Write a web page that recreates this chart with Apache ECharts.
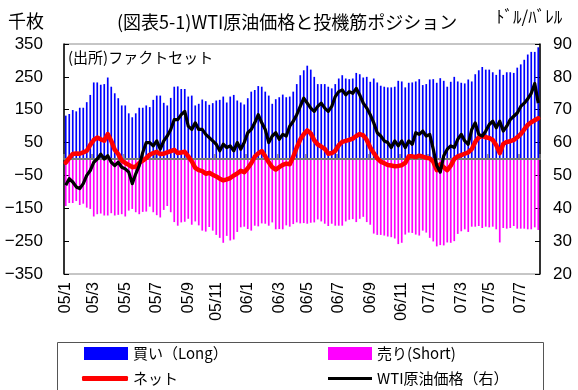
<!DOCTYPE html>
<html>
<head>
<meta charset="utf-8">
<script src="https://cdn.jsdelivr.net/npm/echarts@6/dist/echarts.min.js"></script>
<style>
  html, body { margin: 0; padding: 0; background: #fff; }
  #chart { width: 578px; height: 390px; }
</style>
</head>
<body>
<div id="chart"></div>
<script>
// Weekly positions (Tuesday reports) from 2005-01-04, in thousands of contracts
const firstWeek = [2005, 0, 4];
const weekCount = 136;

const longPos = [
  132,137,149,145,156,156,173,195,233,233,
  226,228,248,220,200,185,163,163,139,127,
  139,156,156,163,158,180,193,193,171,163,
  186,220,221,213,213,190,193,163,168,181,
  176,165,170,178,180,190,172,190,195,178,
  172,166,185,205,210,222,220,205,193,168,
  182,188,196,188,190,205,228,255,270,284,
  272,250,228,228,228,220,215,228,245,255,
  245,243,245,262,258,248,250,235,245,233,
  223,220,218,218,220,238,236,218,232,233,
  236,243,225,228,242,243,232,246,238,220,
  235,250,236,232,230,242,236,258,270,280,
  272,272,264,256,272,256,264,264,262,278,
  288,302,318,326,326,340
];

const shortPos = [
  -143,-134,-134,-128,-140,-136,-148,-152,-175,-168,
  -166,-172,-172,-165,-172,-170,-168,-175,-157,-152,
  -162,-168,-161,-160,-145,-162,-171,-178,-155,-143,
  -162,-192,-203,-193,-191,-182,-200,-190,-202,-218,
  -221,-207,-218,-231,-240,-255,-234,-248,-245,-222,
  -208,-206,-213,-218,-203,-205,-196,-197,-203,-193,
  -214,-213,-214,-202,-206,-198,-193,-196,-195,-197,
  -194,-193,-184,-190,-197,-204,-197,-203,-203,-203,
  -190,-185,-183,-192,-182,-176,-192,-200,-227,-231,
  -231,-233,-236,-238,-242,-259,-255,-230,-224,-225,
  -230,-233,-218,-224,-240,-251,-266,-262,-263,-254,
  -255,-250,-228,-220,-214,-222,-206,-206,-204,-210,
  -206,-208,-206,-214,-254,-210,-212,-210,-204,-212,
  -212,-212,-214,-214,-208,-216
];

const netPos = [
  -11,3,15,17,16,20,25,43,58,65,
  60,56,76,55,28,15,-5,-12,-18,-25,
  -23,-12,-5,3,13,18,22,15,16,20,
  24,28,18,20,22,8,-7,-27,-34,-37,
  -45,-42,-48,-53,-60,-65,-62,-58,-50,-44,
  -36,-40,-28,-13,7,17,24,8,-10,-25,
  -32,-25,-18,-14,-16,7,35,59,75,87,
  78,57,44,38,31,16,18,25,42,52,
  55,58,62,70,76,72,58,35,18,2,
  -8,-13,-18,-20,-22,-21,-19,-12,8,8,
  6,10,7,4,2,-8,-34,-16,-25,-34,
  -20,0,8,12,16,20,30,52,66,70,
  66,64,58,42,18,46,52,54,58,66,
  76,90,104,112,118,124
];

// WTI crude, USD per barrel
const wtiPrice = [
  47,49,48,46.5,46,47.5,50,51.5,54,55,
  56.5,55,56,54,53,54,52.5,52,51,47.5,
  50.5,53,57,60,60,59,60.5,58,60.5,62,
  64,67,67,68.5,69.5,65,64,66,64,64,
  62.5,61.5,60.5,59.5,57.5,59.5,58.5,59,57.5,60,
  58,60,63,64,66,68.5,66,64,60,62,
  63,61,62.5,62,65,66.5,68.5,71,73.5,72,
  70.5,69.5,71,72,70.5,69.5,71,74,75.5,76,
  74.5,75.5,75,76.5,74.5,72,70.5,68.5,66,63,
  62,60.5,60,58.5,60.5,59,60.5,58.5,60.5,59.5,
  63,62.5,63.5,62,62.5,58,53,51,56,58,
  59,58.5,61,62.5,60.5,59.5,64,66,62.5,62,
  63.5,65.5,66.5,64.5,66.5,63.5,65,67,68,69,
  71,72,73.3,75,78,72
];

const leftTicks = { min: -350, max: 350, step: 100 };
const rightTicks = { min: 20, max: 90, step: 10 };

// Category labels: one per weekly report
const weekDates = [];
for (let i = 0; i < weekCount; i++) {
  const d = new Date(firstWeek[0], firstWeek[1], firstWeek[2] + i * 7);
  weekDates.push(d.getFullYear() + '-' + (d.getMonth() + 1) + '-' + d.getDate());
}
// First report of every odd month carries a tick and a label ("05/1")
function isMarked(index) {
  const p = weekDates[index].split('-').map(Number);
  return p[2] <= 7 && p[1] % 2 === 1;
}
function shortLabel(value) {
  const p = value.split('-');
  return p[0].slice(2) + '/' + p[1];
}

const NUM_FONT = '"Liberation Sans", Arial, sans-serif';
const JP_FONT = '"Noto Sans CJK JP", "Noto Sans", sans-serif';

const chart = echarts.init(document.getElementById('chart'), null, { renderer: 'canvas' });

const legendText = { fontFamily: JP_FONT, fontSize: 15, color: '#000' };

chart.setOption({
  animation: false,
  backgroundColor: '#ffffff',
  grid: {
    left: 64, right: 38, top: 44, bottom: 116,
    show: true, borderColor: '#8c8c8c', borderWidth: 1, backgroundColor: 'transparent'
  },
  xAxis: [
    {
      type: 'category',
      data: weekDates,
      boundaryGap: true,
      axisLine: { show: false, onZero: false },
      axisTick: { show: false },
      axisLabel: {
        rotate: 90,
        interval: (i) => isMarked(i),
        formatter: shortLabel,
        fontFamily: NUM_FONT,
        fontSize: 16,
        color: '#000',
        margin: 8
      },
      splitLine: { show: false }
    },
    {
      // zero baseline with the bi-monthly tick marks
      type: 'category',
      data: weekDates,
      boundaryGap: true,
      position: 'bottom',
      z: 3,
      axisLine: { show: true, onZero: true, onZeroAxisIndex: 0, lineStyle: { color: '#7a7a7a', width: 2 } },
      axisTick: { show: true, inside: true, length: 5, interval: (i) => isMarked(i), lineStyle: { color: '#7a7a7a', width: 1.5 } },
      axisLabel: { show: false },
      splitLine: { show: false }
    }
  ],
  yAxis: [
    {
      type: 'value',
      min: leftTicks.min, max: leftTicks.max, interval: leftTicks.step,
      axisLine: { show: true, lineStyle: { color: '#000', width: 1.5 } },
      axisTick: { show: true, inside: true, length: 5, lineStyle: { color: '#000' } },
      axisLabel: {
        fontFamily: NUM_FONT, fontSize: 17, color: '#000', margin: 21,
        formatter: (v) => String(v).replace('-', '\u2212')
      },
      splitLine: { show: false }
    },
    {
      type: 'value',
      position: 'right',
      min: rightTicks.min, max: rightTicks.max, interval: rightTicks.step,
      axisLine: { show: true, lineStyle: { color: '#000', width: 1.5 } },
      axisTick: { show: true, inside: true, length: 5, lineStyle: { color: '#000' } },
      axisLabel: { fontFamily: NUM_FONT, fontSize: 17, color: '#000', margin: 13 },
      splitLine: { show: false }
    }
  ],
  legend: [
    { data: ['買い（Long）'], left: 84, top: 346, padding: 0, itemWidth: 44, itemHeight: 13, icon: 'rect', textStyle: legendText },
    { data: ['売り(Short)'], left: 328, top: 346, padding: 0, itemWidth: 44, itemHeight: 13, icon: 'rect', textStyle: legendText },
    { data: ['ネット'], left: 82, top: 371, padding: 0, itemWidth: 46, itemHeight: 5, icon: 'roundRect', textStyle: legendText },
    { data: ['WTI原油価格（右）'], left: 328, top: 371, padding: 0, itemWidth: 44, itemHeight: 3, icon: 'rect', textStyle: legendText }
  ],
  graphic: [
    { type: 'rect', shape: { x: 57.5, y: 342.5, width: 486, height: 60 },
      style: { fill: 'none', stroke: '#555', lineWidth: 1 }, z: -1 },
    { type: 'text', left: 8, top: 12,
      style: { text: '千枚', fontFamily: JP_FONT, fontSize: 18, fill: '#000' } },
    { type: 'text', left: 117, top: 13,
      style: { text: '(図表5-1)WTI原油価格と投機筋ポジション', fontFamily: JP_FONT, fontSize: 18, fill: '#000' } },
    { type: 'text', left: 496, top: 8,
      style: { text: 'ﾄﾞﾙ/ﾊﾞﾚﾙ', fontFamily: JP_FONT, fontSize: 17, fill: '#000' } },
    { type: 'text', left: 68, top: 50,
      style: { text: '(出所)ファクトセット', fontFamily: JP_FONT, fontSize: 15, fill: '#000' } }
  ],
  series: [
    {
      name: '買い（Long）', type: 'bar', data: longPos,
      xAxisIndex: 0, yAxisIndex: 0, barWidth: 1.7, barGap: '-100%',
      itemStyle: { color: '#0000ff' }, z: 2
    },
    {
      name: '売り(Short)', type: 'bar', data: shortPos,
      xAxisIndex: 0, yAxisIndex: 0, barWidth: 1.7, barGap: '-100%',
      itemStyle: { color: '#ff00ff' }, z: 2
    },
    {
      name: 'ネット', type: 'line', data: netPos,
      xAxisIndex: 0, yAxisIndex: 0, symbol: 'none',
      lineStyle: { color: '#ff0000', width: 4.5, cap: 'round', join: 'round' },
      itemStyle: { color: '#ff0000' }, z: 4
    },
    {
      name: 'WTI原油価格（右）', type: 'line', data: wtiPrice,
      xAxisIndex: 0, yAxisIndex: 1, symbol: 'none',
      lineStyle: { color: '#000000', width: 3.2, join: 'round' },
      itemStyle: { color: '#000000' }, z: 5
    }
  ]
});
</script>
</body>
</html>
